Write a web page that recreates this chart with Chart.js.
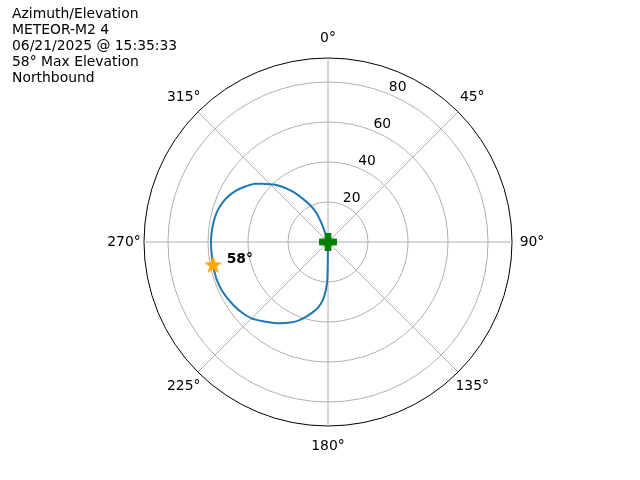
<!DOCTYPE html>
<html><head><meta charset="utf-8">
<script src="https://cdn.jsdelivr.net/npm/chart.js@4.4.1/dist/chart.umd.min.js"></script>
<style>html,body{margin:0;padding:0;background:#fff}</style>
</head><body>
<canvas id="c" width="640" height="480"></canvas>
<script>
// ---- data ----
const titleLines = ['Azimuth/Elevation', 'METEOR-M2 4', '06/21/2025 @ 15:35:33', '58° Max Elevation', 'Northbound'];
const azimuthTicks = [0, 45, 90, 135, 180, 225, 270, 315];
const elevationTicks = [20, 40, 60, 80];
const rMax = 92;
const passAz = [180.0, 180.8, 182.4, 184.9, 188.5, 193.1, 197.9, 202.7, 208.1, 213.3, 219.4, 225.2, 230.4, 235.3, 240.8, 245.8, 250.5, 254.6, 259.8, 264.6, 269.6, 274.4, 279.5, 284.5, 289.5, 294.5, 299.1, 303.7, 308.4, 312.6, 316.3, 320.0, 323.0, 325.8, 330.1, 335.1, 338.3, 341.0, 342.6, 343.0];
const passEl = [0.0, 18.9, 23.9, 29.0, 33.0, 36.5, 40.1, 43.1, 45.9, 48.5, 51.3, 54.0, 55.6, 56.7, 57.7, 58.4, 58.7, 58.7, 58.5, 58.5, 58.5, 58.4, 58.1, 57.6, 56.6, 54.9, 52.8, 50.0, 46.7, 43.0, 39.6, 36.2, 33.0, 29.6, 24.75, 19.6, 15.2, 10.0, 5.3, 0.0];
const maxAz = [258.5];
const maxEl = [58.6];
const maxLabel = ['58°'];
const startAz = [180];
const startEl = [0];

// ---- helpers ----
const FONT = 'DejaVu Sans';
const BINS = 720;               // 0.5° angular bins for the radial scale
const PER_DEG = BINS / 360;
const azLabels = Array.from({length: BINS}, (_, i) => i / PER_DEG);
function toSeries(az, el) {
  const d = new Array(BINS).fill(null);
  az.forEach((a, i) => { d[Math.round(a * PER_DEG) % BINS] = el[i]; });
  return d;
}
function starImage(R, color) {
  const s = Math.ceil(2 * R + 3);
  const c = document.createElement('canvas');
  c.width = s; c.height = s;
  const g = c.getContext('2d');
  g.translate(s / 2, s / 2);
  g.beginPath();
  const r2 = R * 0.381966;
  for (let k = 0; k < 10; k++) {
    const ang = -Math.PI / 2 + k * Math.PI / 5;
    const rr = k % 2 === 0 ? R : r2;
    g.lineTo(rr * Math.cos(ang), rr * Math.sin(ang));
  }
  g.closePath();
  g.fillStyle = color; g.fill();
  g.strokeStyle = color; g.lineWidth = 1; g.stroke();
  return c;
}
function plusImage(S, color) {
  const s = Math.ceil(S + 3);
  const c = document.createElement('canvas');
  c.width = s; c.height = s;
  const g = c.getContext('2d');
  g.translate(s / 2, s / 2);
  const u = S / 6;
  const pts = [[-1,-3],[1,-3],[1,-1],[3,-1],[3,1],[1,1],[1,3],[-1,3],[-1,1],[-3,1],[-3,-1],[-1,-1]];
  g.beginPath();
  pts.forEach(p => g.lineTo(p[0] * u, p[1] * u));
  g.closePath();
  g.fillStyle = color; g.fill();
  g.strokeStyle = color; g.lineWidth = 1.2; g.lineJoin = 'round'; g.stroke();
  return c;
}

const textPlugin = {
  id: 'polarText',
  afterDraw(chart) {
    const ctx = chart.ctx;
    const sc = chart.scales.r;
    ctx.save();
    ctx.fillStyle = '#000';
    // angular labels
    ctx.font = '13.9px "' + FONT + '"';
    ctx.textAlign = 'center';
    ctx.textBaseline = 'alphabetic';
    azimuthTicks.forEach(a => {
      const p = sc.getPointPosition(a * PER_DEG, sc.drawingArea + 20);
      ctx.fillText(a + '°', p.x, p.y + 3.5);
    });
    // radial labels at 22.5°
    elevationTicks.forEach(v => {
      const p = sc.getPointPositionForValue(22.5 * PER_DEG, v);
      ctx.fillText(String(v), p.x + 8.4, p.y - 8.3 + 5.1);
    });
    // max elevation annotation
    ctx.font = 'bold 13.9px "' + FONT + '"';
    ctx.textAlign = 'left';
    maxAz.forEach((a, i) => {
      const p = sc.getPointPositionForValue(a * PER_DEG, maxEl[i]);
      ctx.fillText(maxLabel[i], p.x + 13.5, p.y - 7 + 5.1);
    });
    // title block
    ctx.font = '13.9px "' + FONT + '"';
    titleLines.forEach((t, i) => ctx.fillText(t, 12, 17.5 + i * 16.1));
    ctx.restore();
  }
};

new Chart(document.getElementById('c'), {
  type: 'radar',
  data: {
    labels: azLabels,
    datasets: [
      { data: toSeries(passAz, passEl), borderColor: '#1f77b4', borderWidth: 2, pointRadius: 0,
        fill: false, spanGaps: true, tension: 0.3, borderJoinStyle: 'round', order: 3 },
      { data: toSeries(maxAz, maxEl), showLine: false, fill: false, borderColor: 'transparent',
        backgroundColor: 'transparent', pointStyle: starImage(8.4, '#ffa500'), pointRadius: 8, order: 2 },
      { data: toSeries(startAz, startEl), showLine: false, fill: false, borderColor: 'transparent',
        backgroundColor: 'transparent', pointStyle: plusImage(16.7, '#008000'), pointRadius: 8, order: 1 }
    ]
  },
  options: {
    responsive: false,
    animation: false,
    events: [],
    layout: { padding: { top: 58, bottom: 54, left: 16, right: 0 } },
    plugins: { legend: { display: false }, tooltip: { enabled: false }, title: { display: false } },
    scales: {
      r: {
        min: 0, max: rMax,
        afterBuildTicks: s => { s.ticks = [0, ...elevationTicks, rMax].map(v => ({ value: v })); },
        ticks: { display: false },
        pointLabels: { display: false },
        grid: { circular: true, lineWidth: 1,
          color: c => (c.tick && c.tick.value === rMax) ? '#000000' : '#b0b0b0' },
        angleLines: { display: true, lineWidth: 1,
          color: c => (c.index % (45 * PER_DEG) === 0 ? '#b0b0b0' : '') }
      }
    }
  },
  plugins: [textPlugin]
});
</script>
</body></html>
